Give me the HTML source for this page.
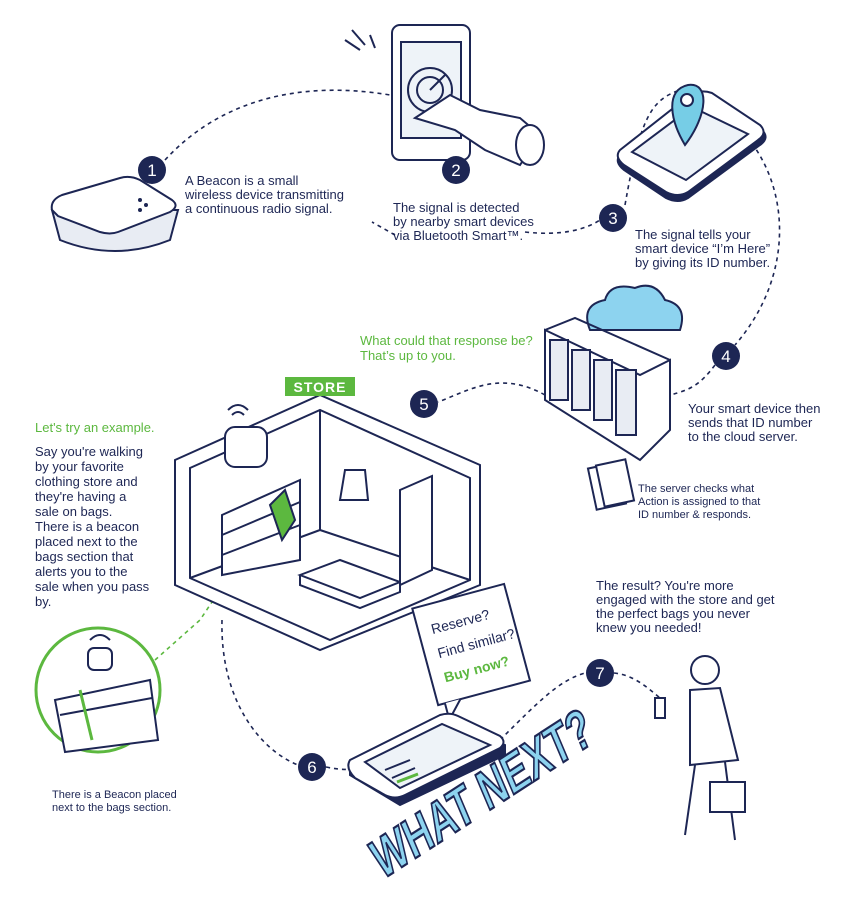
<!DOCTYPE html>
<html><head><meta charset="utf-8"><style>
html,body{margin:0;padding:0;background:#fff}
svg{display:block}
text{font-family:"Liberation Sans",sans-serif}
</style></head><body>
<svg width="857" height="914" viewBox="0 0 857 914" xmlns="http://www.w3.org/2000/svg">
<g fill="none" stroke="#1d2654" stroke-width="1.6" stroke-dasharray="4 4">
<path d="M165 160 C220 100 300 80 390 95"/>
<path d="M525 232 C560 236 585 230 600 220"/>
<path d="M625 205 C640 120 650 100 680 90"/>
<path d="M730 120 C790 170 800 270 735 345"/>
<path d="M715 365 C700 385 690 390 670 395"/>
<path d="M545 395 C500 370 470 390 438 402"/>
<path d="M222 620 C220 700 260 750 298 765"/>
<path d="M326 767 C340 770 350 770 360 768"/>
<path d="M500 740 C540 700 560 680 585 673"/>
<path d="M614 673 C635 675 650 690 660 698"/>
<path d="M395 235 L372 222"/>
</g>
<path d="M155 660 L200 620 L240 560" fill="none" stroke="#5cb83f" stroke-width="1.6" stroke-dasharray="4 4"/>
<!-- beacon -->
<g stroke="#1d2654" stroke-width="2" fill="#fff">
<path d="M52 210 L60 240 Q115 262 170 240 L178 210 Z" fill="#e8ecf3"/>
<path d="M52 210 Q50 200 62 195 L120 178 Q130 175 140 180 L172 200 Q180 206 170 212 L118 232 Q110 235 100 232 L58 216 Z"/>
</g>
<circle cx="140" cy="200" r="2" fill="#1d2654"/><circle cx="146" cy="205" r="2" fill="#1d2654"/><circle cx="140" cy="210" r="2" fill="#1d2654"/>
<!-- tablet -->
<g stroke="#1d2654" stroke-width="2" fill="#fff">
<rect x="392" y="25" width="78" height="135" rx="8"/>
<rect x="401" y="42" width="60" height="96" fill="#eef3f8"/>
<circle cx="430" cy="90" r="22" fill="none"/><circle cx="430" cy="90" r="13" fill="none"/>
<path d="M430 90 L445 75" fill="none"/>
<path d="M415 118 L450 95 L480 110 L520 118 L540 135 L520 165 L485 150 L455 130 Z"/>
<ellipse cx="530" cy="145" rx="14" ry="20" fill="#fff"/>
<path d="M345 40 L360 50 M352 30 L365 45 M370 35 L375 48" fill="none"/>
</g>
<!-- phone 3 -->
<g stroke="#1d2654" stroke-width="2" fill="#fff">
<path d="M620 155 L690 100 Q700 94 712 98 L762 130 Q770 138 760 145 L688 198 Q678 204 666 198 L624 170 Q614 162 620 155 Z" fill="#1d2654"/>
<path d="M620 150 L690 95 Q700 89 712 93 L760 125 Q768 133 758 140 L688 192 Q678 198 666 192 L624 165 Q614 157 620 150 Z"/>
<path d="M632 152 L692 107 L748 134 L686 180 Z" fill="#eef3f8"/>
</g>
<path d="M685 145 C670 120 665 90 688 85 C710 82 708 115 685 145 Z" fill="#76cde6" stroke="#1d2654" stroke-width="2"/>
<circle cx="687" cy="100" r="6" fill="#fff" stroke="#1d2654" stroke-width="2"/>
<!-- cloud -->
<path d="M590 330 Q580 305 605 300 Q610 282 635 288 Q655 280 665 300 Q688 305 680 330 Z" fill="#8dd3ef" stroke="#1d2654" stroke-width="2"/>
<!-- servers -->
<g stroke="#1d2654" stroke-width="2" fill="#fff">
<path d="M545 330 L640 375 L670 360 L670 430 L640 460 L545 400 Z"/>
<path d="M545 330 L575 318 L670 360" fill="none"/>
<g fill="#e8ecf3">
<rect x="550" y="340" width="18" height="60"/><rect x="572" y="350" width="18" height="60"/><rect x="594" y="360" width="18" height="60"/><rect x="616" y="370" width="20" height="65"/>
</g>
<rect x="592" y="465" width="30" height="42" transform="rotate(-12 607 486)"/>
<rect x="600" y="462" width="30" height="42" transform="rotate(-12 615 483)"/>
</g>
<!-- store -->
<g stroke="#1d2654" stroke-width="2" fill="#fff">
<path d="M175 460 L320 395 L480 465 L480 585 L320 650 L175 585 Z"/>
<path d="M190 468 L320 410 L470 478 L470 580 L330 640 L190 578 Z" fill="#fff"/>
<path d="M320 410 L320 530 L190 578 M320 530 L470 580" fill="none"/>
<path d="M300 575 L340 560 L400 582 L360 598 Z"/>
<path d="M300 575 L300 585 L360 608 L400 592 L400 582" fill="none"/>
<path d="M400 490 L432 476 L432 570 L400 585 Z"/>
<path d="M340 500 L345 470 L365 470 L368 500 Z"/>
<path d="M222 515 L300 480 L300 560 L222 575 Z"/>
<path d="M222 535 L300 502 M222 555 L300 525" fill="none"/>
<rect x="225" y="427" width="42" height="40" rx="10"/>
<path d="M270 505 L285 490 L295 520 L282 540 Z" fill="#5cb83f"/>
<path d="M228 410 Q238 400 248 410 M232 415 Q238 409 244 415" fill="none"/>
</g>
<rect x="285" y="377" width="70" height="19" fill="#5cb83f"/>
<text x="320" y="392" fill="#fff" font-size="14" font-weight="bold" text-anchor="middle" letter-spacing="1">STORE</text>
<!-- speech bubble -->
<g transform="rotate(-15 470 650)">
<rect x="425" y="595" width="95" height="100" fill="#fff" stroke="#1d2654" stroke-width="2"/>
<path d="M432 695 L432 712 L448 695" fill="#fff" stroke="#1d2654" stroke-width="2"/>
<text x="438" y="625" font-size="14" fill="#1d2654">Reserve?</text>
<text x="438" y="650" font-size="14" fill="#1d2654">Find similar?</text>
<text x="438" y="675" font-size="14" fill="#5cb83f" font-weight="bold">Buy now?</text>
</g>
<!-- bag circle -->
<circle cx="98" cy="690" r="62" fill="#fff" stroke="#5cb83f" stroke-width="3"/>
<g stroke="#1d2654" stroke-width="2" fill="#fff">
<rect x="88" y="648" width="24" height="22" rx="6"/>
<path d="M55 700 L150 680 L158 740 L65 752 Z"/>
<path d="M60 715 L152 698" fill="none"/>
<path d="M90 640 Q100 630 110 640" fill="none"/>
</g>
<path d="M80 690 L92 740" stroke="#5cb83f" stroke-width="3"/>
<!-- phone 6 -->
<g stroke="#1d2654" stroke-width="2" fill="#fff">
<path d="M350 765 L445 720 L505 745 L505 755 L400 805 L350 775 Z" fill="#1d2654"/>
<path d="M350 760 L440 715 Q450 712 458 716 L500 736 Q507 742 500 748 L405 795 Q395 800 385 795 L355 778 Q345 768 350 760 Z"/>
<path d="M365 762 L442 724 L490 745 L400 788 Z" fill="#eef3f8"/>
</g>
<path d="M385 770 L410 760 M392 778 L415 768" stroke="#1d2654" stroke-width="2"/>
<path d="M397 782 L418 774" stroke="#5cb83f" stroke-width="3"/>
<!-- man -->
<g stroke="#1d2654" stroke-width="2" fill="#fff">
<circle cx="705" cy="670" r="14"/>
<path d="M690 690 L720 688 L738 760 L690 765 Z"/>
<path d="M695 765 L685 835 M725 762 L735 840" fill="none"/>
<rect x="710" y="782" width="35" height="30"/>
<rect x="655" y="698" width="10" height="20"/>
</g>
<!-- WHAT NEXT -->
<text x="0" y="0" transform="translate(382 880) rotate(-33) skewX(-10)" font-size="54" font-weight="bold" fill="#8dd3ef" stroke="#1d2654" stroke-width="2.2" textLength="255" lengthAdjust="spacingAndGlyphs">WHAT NEXT?</text>
<!-- numbers -->
<g fill="#1d2654">
<circle cx="152" cy="170" r="14"/><circle cx="456" cy="170" r="14"/><circle cx="613" cy="218" r="14"/><circle cx="726" cy="356" r="14"/><circle cx="424" cy="404" r="14"/><circle cx="312" cy="767" r="14"/><circle cx="600" cy="673" r="14"/>
</g>
<g fill="#fff" font-size="17" text-anchor="middle">
<text x="152" y="176">1</text><text x="456" y="176">2</text><text x="613" y="224">3</text><text x="726" y="362">4</text><text x="424" y="410">5</text><text x="312" y="773">6</text><text x="600" y="679">7</text>
</g>
<g fill="#1d2654" font-size="13">
<text x="185" y="185">A Beacon is a small</text><text x="185" y="199">wireless device transmitting</text><text x="185" y="213">a continuous radio signal.</text>
<text x="393" y="212">The signal is detected</text><text x="393" y="226">by nearby smart devices</text><text x="393" y="240">via Bluetooth Smart™.</text>
<text x="635" y="239">The signal tells your</text><text x="635" y="253">smart device “I’m Here”</text><text x="635" y="267">by giving its ID number.</text>
<text x="688" y="413">Your smart device then</text><text x="688" y="427">sends that ID number</text><text x="688" y="441">to the cloud server.</text>
<text x="596" y="590">The result? You're more</text><text x="596" y="604">engaged with the store and get</text><text x="596" y="618">the perfect bags you never</text><text x="596" y="632">knew you needed!</text>
<text x="35" y="456">Say you're walking</text><text x="35" y="471">by your favorite</text><text x="35" y="486">clothing store and</text><text x="35" y="501">they're having a</text><text x="35" y="516">sale on bags.</text><text x="35" y="531">There is a beacon</text><text x="35" y="546">placed next to the</text><text x="35" y="561">bags section that</text><text x="35" y="576">alerts you to the</text><text x="35" y="591">sale when you pass</text><text x="35" y="606">by.</text>
</g>
<g fill="#1d2654" font-size="11">
<text x="638" y="492">The server checks what</text><text x="638" y="505">Action is assigned to that</text><text x="638" y="518">ID number &amp; responds.</text>
<text x="52" y="798">There is a Beacon placed</text><text x="52" y="811">next to the bags section.</text>
</g>
<g fill="#5cb83f" font-size="13">
<text x="360" y="345">What could that response be?</text><text x="360" y="360">That’s up to you.</text>
<text x="35" y="432">Let's try an example.</text>
</g>
</svg>
</body></html>
